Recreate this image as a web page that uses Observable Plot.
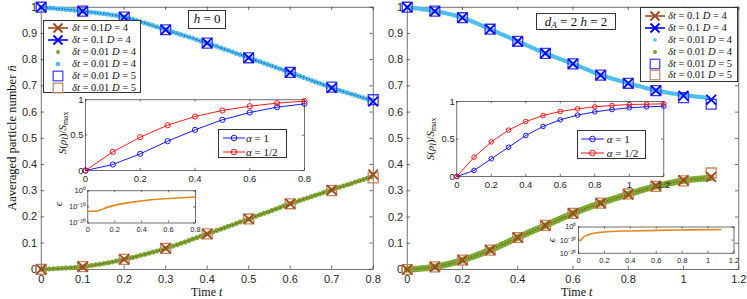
<!DOCTYPE html>
<html><head><meta charset="utf-8">
<script src="https://cdn.jsdelivr.net/npm/d3@7"></script>
<script src="https://cdn.jsdelivr.net/npm/@observablehq/plot@0.6"></script>
<style>
body{margin:0;background:#fff;}
#wrap{position:relative;width:747px;height:299px;overflow:hidden;font-family:"Liberation Sans",Arial,sans-serif;}
.serif{font-family:"Liberation Serif","Times New Roman",serif;color:#111;}
.lab{position:absolute;white-space:nowrap;}
.box{position:absolute;background:#fff;border:1px solid #333;box-sizing:border-box;}
sub{font-size:70%;vertical-align:-0.25em;line-height:0;}
</style></head>
<body><div id="wrap"></div>
<script>
const W = 747, H = 299;
// ---------- data ----------
const tL = [0, 0.1, 0.2, 0.3, 0.4, 0.5, 0.6, 0.7, 0.8];
const tR = [0, 0.1, 0.2, 0.3, 0.4, 0.5, 0.6, 0.7, 0.8, 0.9, 1.0, 1.1];
// left panel (h = 0)
const topL_dt1  = [1.0, 0.985, 0.962, 0.914, 0.863, 0.807, 0.751, 0.692, 0.640];
const topL_sq   = [1.0, 0.985, 0.962, 0.914, 0.863, 0.807, 0.751, 0.695, 0.647];
const topL_dt01 = [1.0, 0.985, 0.962, 0.914, 0.863, 0.807, 0.751, 0.693, 0.643];
const botL_dt1  = [0, 0.010, 0.038, 0.080, 0.135, 0.192, 0.250, 0.303, 0.362];
const botL_sq   = [0, 0.010, 0.038, 0.080, 0.135, 0.192, 0.250, 0.300, 0.349];
const botL_dt01 = [0, 0.010, 0.038, 0.080, 0.135, 0.192, 0.250, 0.303, 0.355];
// right panel (d_A = 2, h = 2)
const topR_dt1  = [1.0, 0.985, 0.960, 0.916, 0.870, 0.824, 0.784, 0.741, 0.710, 0.682, 0.662, 0.647];
const topR_sq   = [1.0, 0.985, 0.960, 0.916, 0.870, 0.824, 0.784, 0.741, 0.710, 0.682, 0.655, 0.630];
const topR_dt01 = [1.0, 0.985, 0.960, 0.916, 0.870, 0.824, 0.784, 0.742, 0.710, 0.683, 0.665, 0.653];
const botR_dt1  = [0, 0.010, 0.036, 0.074, 0.122, 0.168, 0.214, 0.253, 0.286, 0.319, 0.340, 0.353];
const botR_sq   = [0, 0.010, 0.036, 0.074, 0.122, 0.168, 0.214, 0.253, 0.288, 0.317, 0.338, 0.368];
const botR_dt01 = [0, 0.010, 0.036, 0.074, 0.122, 0.168, 0.214, 0.253, 0.287, 0.317, 0.339, 0.350];
// entropy insets
const tIL = [0, 0.1, 0.2, 0.3, 0.4, 0.5, 0.6, 0.7, 0.8];
const sL_a1   = [0, 0.085, 0.236, 0.415, 0.575, 0.717, 0.820, 0.896, 0.943];
const sL_a12  = [0, 0.264, 0.471, 0.641, 0.764, 0.849, 0.910, 0.953, 0.981];
const tIR = [0, 0.1, 0.2, 0.3, 0.4, 0.5, 0.6, 0.7, 0.8, 0.9, 1.0, 1.1, 1.2];
const sR_a1   = [0, 0.080, 0.236, 0.390, 0.547, 0.667, 0.756, 0.818, 0.862, 0.893, 0.916, 0.929, 0.937];
const sR_a12  = [0, 0.258, 0.462, 0.618, 0.733, 0.813, 0.867, 0.902, 0.929, 0.947, 0.960, 0.964, 0.969];
// error insets (log10 of epsilon)
const tEL = [0.005, 0.07, 0.145, 0.22, 0.345, 0.47, 0.595, 0.8];
const eL  = [-12.8, -12.5, -10.3, -8.6, -6.9, -5.6, -4.8, -3.8];
const tER = [0.015, 0.03, 0.06, 0.1, 0.15, 0.25, 0.4, 0.6, 0.8, 1.1];
const eR  = [-10.5, -8.5, -6.5, -5.2, -4.3, -3.4, -3.0, -2.6, -2.3, -1.9];
// ticks
const yTicksMain = [0, 0.1, 0.2, 0.3, 0.4, 0.5, 0.6, 0.7, 0.8, 0.9, 1];
const xTicksL = [0, 0.1, 0.2, 0.3, 0.4, 0.5, 0.6, 0.7, 0.8];
const xTicksR = [0, 0.2, 0.4, 0.6, 0.8, 1, 1.2];
const xTicksIL = [0, 0.2, 0.4, 0.6, 0.8];
const xTicksIR = [0, 0.2, 0.4, 0.6, 0.8, 1, 1.2];
const yTicksI = [0, 0.5, 1];
const yTicksE = [1e-20, 1e-10, 1];
const yLabelsE = {"-20": "10\u207B\u00B2\u2070", "-10": "10\u207B\u00B9\u2070", "0": "10\u2070"};
const xTicksEL = [0, 0.2, 0.4, 0.6, 0.8];
const xTicksER = [0, 0.2, 0.4, 0.6, 0.8, 1, 1.2];

// ---------- colours ----------
const C_CYAN = "#4DBEEE", C_GREEN = "#77AC30", C_BLUE = "#0000FF", C_BROWN = "#A3471F",
      C_SQB = "#3A3AFF", C_SQR = "#C6845E", C_ORANGE = "#E5861A";

const wrap = document.getElementById("wrap");
const rows = (t, v) => t.map((x, i) => ({t: x, v: v[i]}));
const fmt = d => String(d);
const fmtE = d => yLabelsE[String(Math.round(Math.log10(d)))];

function ticksBox(xt, yt, fr, len) {
  const h = fr.b - fr.t, w = fr.r - fr.l, s = {stroke: "#333", strokeWidth: 0.7};
  return [
    Plot.tickX(xt, {x: d => d, insetTop: h - len, ...s}),
    Plot.tickX(xt, {x: d => d, insetBottom: h - len, ...s}),
    Plot.tickY(yt, {y: d => d, insetRight: w - len, ...s}),
    Plot.tickY(yt, {y: d => d, insetLeft: w - len, ...s})
  ];
}

function layer(fr, xd, yd, yType, marks) {
  const svg = Plot.plot({
    width: W, height: H,
    marginLeft: fr.l, marginRight: W - fr.r, marginTop: fr.t, marginBottom: H - fr.b,
    x: {domain: xd}, y: {domain: yd, type: yType},
    style: {position: "absolute", left: "0px", top: "0px", background: "transparent",
            overflow: "visible", fontFamily: "Liberation Sans, Arial, sans-serif", color: "#262626"},
    marks
  });
  wrap.appendChild(svg);
}

function mainPanel(fr, xd, xt, d) {
  layer(fr, xd, [0, 1], "linear", [
    Plot.frame({stroke: "#333", strokeWidth: 0.7}),
    ...ticksBox(xt, yTicksMain, fr, 3.3),
    Plot.axisX(xt, {tickSize: 0, tickPadding: 6, tickFormat: fmt, label: null, fontSize: 11}),
    Plot.axisY(yTicksMain, {tickSize: 0, tickPadding: 4, tickFormat: fmt, label: null, fontSize: 11}),
    // dense dt = 0.01 series
    Plot.line(rows(d.t, d.topDense), {x: "t", y: "v", curve: "catmull-rom", stroke: C_CYAN,
      strokeWidth: d.wTop, strokeDasharray: d.dashTop, strokeLinecap: "round"}),
    Plot.line(rows(d.t, d.botDense), {x: "t", y: "v", curve: "catmull-rom", stroke: C_GREEN,
      strokeWidth: d.wBot, strokeDasharray: d.dashBot, strokeLinecap: "round"}),
    d.topDots ? Plot.line(rows(d.t, d.topDense), {x: "t", y: "v", curve: "catmull-rom", stroke: "#1c2fa8",
      strokeWidth: 1.3, strokeDasharray: "0,3", strokeLinecap: "round"}) : null,
    Plot.line(rows(d.t, d.botDense), {x: "t", y: "v", curve: "catmull-rom", stroke: "#9a2020",
      strokeWidth: 1.3, strokeDasharray: "0,3", strokeLinecap: "round"}),
    // D = 5 squares
    Plot.dot(rows(d.t, d.topSq), {x: "t", y: "v", symbol: "square", r: 5.6, fill: "none", stroke: C_SQB, strokeWidth: 1.3}),
    Plot.dot(rows(d.t, d.botSq), {x: "t", y: "v", symbol: "square", r: 5.6, fill: "none", stroke: C_SQR, strokeWidth: 1.3}),
    // dt = 0.1 crosses
    Plot.dot(rows(d.t, d.top1), {x: "t", y: "v", symbol: "times", r: 4.5, stroke: C_BLUE, strokeWidth: 1.8}),
    Plot.dot(rows(d.t, d.bot1), {x: "t", y: "v", symbol: "times", r: 4.5, stroke: C_BROWN, strokeWidth: 1.8})
  ].filter(Boolean));
}

function entropyInset(fr, xd, xt, t, a1, a12, r) {
  layer(fr, xd, [0, 1], "linear", [
    Plot.frame({fill: "white", stroke: "#333", strokeWidth: 0.7}),
    ...ticksBox(xt, yTicksI, fr, 2.2),
    Plot.axisX(xt, {tickSize: 0, tickPadding: 5, tickFormat: fmt, label: null, fontSize: 9.5}),
    Plot.axisY(yTicksI, {tickSize: 0, tickPadding: 2, tickFormat: fmt, label: null, fontSize: 9.5}),
    Plot.line(rows(t, a1), {x: "t", y: "v", stroke: C_BLUE, strokeWidth: 0.9}),
    Plot.dot(rows(t, a1), {x: "t", y: "v", r, fill: "none", stroke: C_BLUE, strokeWidth: 0.9}),
    Plot.line(rows(t, a12), {x: "t", y: "v", stroke: "#FF0000", strokeWidth: 0.9}),
    Plot.dot(rows(t, a12), {x: "t", y: "v", r, fill: "none", stroke: "#FF0000", strokeWidth: 0.9})
  ]);
}

function errorInset(fr, xd, xt, t, e) {
  layer(fr, xd, [1e-20, 1], "log", [
    Plot.frame({fill: "white", stroke: "#333", strokeWidth: 0.7}),
    ...ticksBox(xt, yTicksE, fr, 2),
    Plot.axisX(xt, {tickSize: 0, tickPadding: 4, tickFormat: fmt, label: null, fontSize: 7.5}),
    Plot.axisY(yTicksE, {tickSize: 0, tickPadding: 2, tickFormat: fmtE, label: null, fontSize: 7.5}),
    Plot.line(t.map((x, i) => ({t: x, v: Math.pow(10, e[i])})), {x: "t", y: "v", curve: "monotone-x", stroke: C_ORANGE, strokeWidth: 1.6})
  ]);
}

const frL = {l: 40.7, r: 372.7, t: 6.7, b: 268.8};
const frR = {l: 406.7, r: 738.3, t: 6.7, b: 269.0};
mainPanel(frL, [0, 0.8], xTicksL, {t: tL, topDense: topL_dt01, botDense: botL_dt01, topSq: topL_sq, botSq: botL_sq,
  top1: topL_dt1, bot1: botL_dt1, wTop: 5, wBot: 5, dashTop: "0,4.2", dashBot: "0,4.2", topDots: true});
mainPanel(frR, [0, 1.2], xTicksR, {t: tR, topDense: topR_dt01, botDense: botR_dt01, topSq: topR_sq, botSq: botR_sq,
  top1: topR_dt1, bot1: botR_dt1, wTop: 4.5, wBot: 6.5, dashTop: "0,2.8", dashBot: "0,2.8", topDots: false});
entropyInset({l: 85, r: 304, t: 99.3, b: 170}, [0, 0.8], xTicksIL, tIL, sL_a1, sL_a12, 2.6);
entropyInset({l: 456.3, r: 663.3, t: 101, b: 176}, [0, 1.2], xTicksIR, tIR, sR_a1, sR_a12, 2.3);
errorInset({l: 87.3, r: 195, t: 190.3, b: 222.5}, [0, 0.8], xTicksEL, tEL, eL);
errorInset({l: 578, r: 733.5, t: 226.5, b: 252.7}, [0, 1.2], xTicksER, tER, eR);

// ---------- HTML text & legends ----------
function addLabel(html, x, y, size, rotate, extra) {
  const d = document.createElement("div");
  d.className = "lab serif";
  d.innerHTML = html;
  d.style.left = x + "px"; d.style.top = y + "px"; d.style.fontSize = size + "px";
  d.style.transform = "translate(-50%,-50%)" + (rotate ? " rotate(-90deg)" : "");
  if (extra) Object.assign(d.style, extra);
  wrap.appendChild(d);
  return d;
}
function addBox(x, y, w, h, html, size) {
  const d = document.createElement("div");
  d.className = "box serif";
  Object.assign(d.style, {left: x + "px", top: y + "px", width: w + "px", height: h + "px",
    fontSize: size + "px", display: "flex", alignItems: "center", justifyContent: "center", whiteSpace: "nowrap"});
  d.innerHTML = html;
  wrap.appendChild(d);
  return d;
}
const sym = {
  xline: c => `<line x1="2" y1="6" x2="22" y2="6" stroke="${c}" stroke-width="1.6"/><path d="M7.5,1.5L16.5,10.5M16.5,1.5L7.5,10.5" stroke="${c}" stroke-width="1.9"/>`,
  dot: (c, r) => `<circle cx="12" cy="6" r="${r}" fill="${c}"/>`,
  square: c => `<rect x="7.2" y="1.2" width="9.6" height="9.6" fill="none" stroke="${c}" stroke-width="1.2"/>`,
  cline: (c, w) => `<line x1="0" y1="6" x2="${w}" y2="6" stroke="${c}" stroke-width="0.9"/><circle cx="${w / 2}" cy="6" r="2.8" fill="none" stroke="${c}" stroke-width="0.9"/>`
};
function legend(x, y, w, h, items, mx, tx, ys, size, symW) {
  const box = addBox(x, y, w, h, "", size);
  box.style.display = "block";
  items.forEach((it, i) => {
    const s = document.createElementNS("http://www.w3.org/2000/svg", "svg");
    s.setAttribute("width", symW); s.setAttribute("height", 12);
    s.innerHTML = it[0];
    Object.assign(s.style, {position: "absolute", left: (mx - symW / 2) + "px", top: (ys[i] - 6) + "px", overflow: "visible"});
    box.appendChild(s);
    const t = document.createElement("div");
    t.innerHTML = it[1];
    Object.assign(t.style, {position: "absolute", left: tx + "px", top: ys[i] + "px", transform: "translateY(-50%)", whiteSpace: "nowrap", lineHeight: "1"});
    box.appendChild(t);
  });
}
const lab1 = "<i>δt</i> = 0.1<i>D</i> = 4";
const lab2 = "<i>δt</i> = 0.1 <i>D</i> = 4";
const lab3 = "<i>δt</i> = 0.01 <i>D</i> = 4";
const lab5 = "<i>δt</i> = 0.01 <i>D</i> = 5";
legend(43, 20, 98, 73, [
  [sym.xline(C_BROWN), lab1], [sym.xline(C_BLUE), lab2], [sym.dot(C_GREEN, 2), lab3],
  [sym.dot(C_CYAN, 2.3), lab3], [sym.square(C_SQB), lab5], [sym.square(C_SQR), lab5]
], 14, 28, [7, 19, 31, 43, 55, 66.5], 10.5, 24);
legend(640, 7, 98.3, 75, [
  [sym.xline(C_BROWN), lab2], [sym.xline(C_BLUE), lab2], [sym.dot(C_CYAN, 1.8), lab3],
  [sym.dot(C_GREEN, 2), lab3], [sym.square(C_SQB), lab5], [sym.square(C_SQR), lab5]
], 14, 27, [8, 19.5, 31.5, 43.5, 55.5, 67], 10.5, 24);
legend(218, 129, 69, 29, [
  [sym.cline(C_BLUE, 22), "<i>α</i> = 1"], [sym.cline("#FF0000", 22), "<i>α</i> = 1/2"]
], 15, 27, [7.5, 21.5], 11, 22);
legend(577.3, 130, 68.7, 29.3, [
  [sym.cline(C_BLUE, 23), "<i>α</i> = 1"], [sym.cline("#FF0000", 23), "<i>α</i> = 1/2"]
], 14.5, 28.5, [7.5, 21.5], 11, 23);

addBox(188.3, 10, 37.7, 18.5, "<span><i>h</i> = 0</span>", 13);
addBox(536, 13.3, 80, 17, "<span><i>d</i><sub><i>A</i></sub> = 2 <i>h</i> = 2</span>", 13);

addLabel("Aaveraged particle number <i>n̄</i>", 11.5, 138, 12.5, true);
addLabel("Time <i>t</i>", 206.7, 291.5, 12, false);
addLabel("Time <i>t</i>", 576.7, 292.3, 12, false);
addLabel("<i>S</i>(<i>ρ</i><sub><i>I</i></sub>)/<i>S</i><sub>max</sub>", 62, 133, 11, true);
addLabel("<i>S</i>(<i>ρ</i><sub><i>I</i></sub>)/<i>S</i><sub>max</sub>", 429.5, 139, 11, true);
addLabel("<i>ϵ</i>", 57.5, 203.5, 11, true);
addLabel("<i>ϵ</i>", 550.5, 240, 11, true);
</script>
</body></html>
